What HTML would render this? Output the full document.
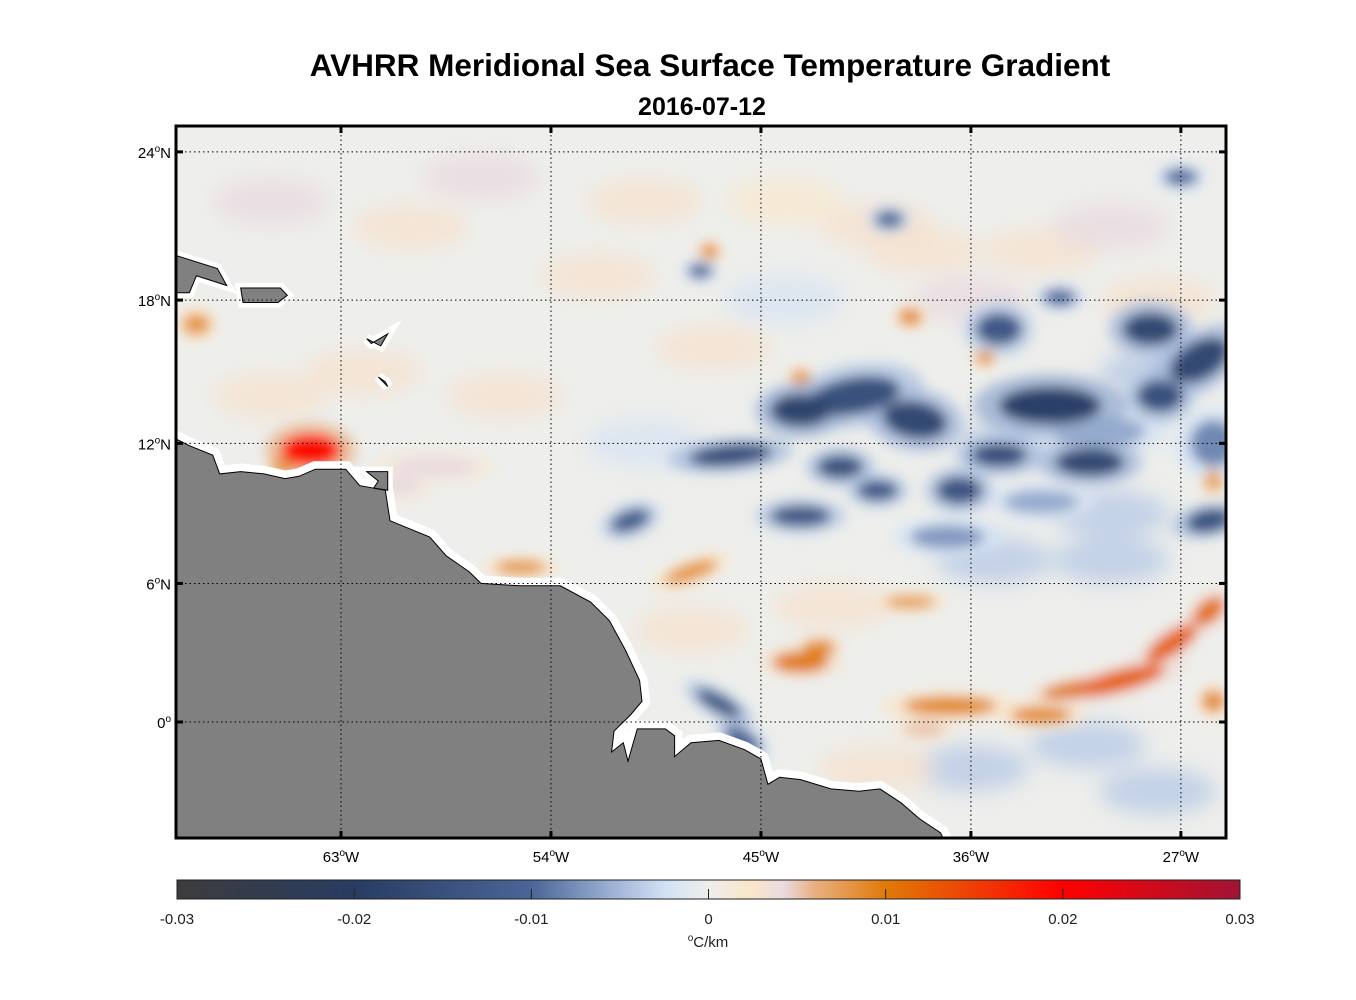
<!DOCTYPE html>
<html><head><meta charset="utf-8">
<style>
html,body{margin:0;padding:0;background:#fff;}
svg{display:block;font-family:"Liberation Sans",Arial,sans-serif;}
</style></head>
<body>
<svg id="chart" width="1356" height="1000" viewBox="0 0 1356 1000">
<defs>
  <clipPath id="mapclip"><rect x="176" y="126" width="1050" height="712"/></clipPath>
  <filter id="blur" x="-50%" y="-50%" width="200%" height="200%"><feGaussianBlur stdDeviation="6"/></filter>
  <filter id="blurs" x="-50%" y="-50%" width="200%" height="200%"><feGaussianBlur stdDeviation="10"/></filter>
  <linearGradient id="cbgrad" x1="0" x2="1" y1="0" y2="0">
    <stop offset="0" stop-color="#3c3c3c"/>
    <stop offset="0.1667" stop-color="#283c62"/>
    <stop offset="0.3333" stop-color="#4a6597"/>
    <stop offset="0.42" stop-color="#a8bcdc"/>
    <stop offset="0.46" stop-color="#d2e2f5"/>
    <stop offset="0.5" stop-color="#eeeeec"/>
    <stop offset="0.54" stop-color="#fbe6c8"/>
    <stop offset="0.57" stop-color="#eadbe0"/>
    <stop offset="0.6" stop-color="#e8b080"/>
    <stop offset="0.6667" stop-color="#e07a08"/>
    <stop offset="0.8333" stop-color="#ff0000"/>
    <stop offset="1" stop-color="#a01434"/>
  </linearGradient>
</defs>
<text x="710" y="76" text-anchor="middle" font-size="31.5" font-weight="bold">AVHRR Meridional Sea Surface Temperature Gradient</text>
<text x="702" y="115" text-anchor="middle" font-size="25" font-weight="bold">2016-07-12</text>
<g id="map" clip-path="url(#mapclip)">
  <rect x="176" y="126" width="1050" height="712" fill="#eeefec"/>
  <g id="bgfield" filter="url(#blurs)"></g>
  <g id="field" filter="url(#blur)"></g>
  <g id="land"></g>
  <g id="grid"></g>
</g>
<rect x="176" y="126" width="1050" height="712" fill="none" stroke="#000" stroke-width="3"/>
<g id="ticks"></g>
<g id="cbar"></g>
<text x="708" y="947" text-anchor="middle" font-size="15" fill="#222"><tspan font-size="10" dy="-6">o</tspan><tspan dy="6">C/km</tspan></text>
</svg>
<script>
// ---- data ----
const lonTicks = [-63, -54, -45, -36, -27];
const latTicks = [24, 18, 12, 6, 0];
const cbTicks = [-0.03, -0.02, -0.01, 0, 0.01, 0.02, 0.03];
const cbTickLabels = ["-0.03", "-0.02", "-0.01", "0", "0.01", "0.02", "0.03"];
// gradient features (anomaly blobs)
const featLon = [-43.3,-41.0,-38.4,-32.6,-34.8,-30.9,-27.9,-26.2,-28.3,-34.8,-46.3,-41.6,-36.5,-40.0,-43.3,-50.6,-25.8,-46.8,-32.2,-47.6,-39.5,-27.0,-30.5,-25.6,-37.0,-33.0,-45.8,
  -29.6,-27.4,-25.8,-31.6,-36.9,-33.0,-43.3,-42.5,-48.0,-55.3,-64.3,-65.5,-69.2,-47.2,-38.6,-35.4,-43.3,-38.6,-25.6,-25.6,-38.0,-59.0,-60.5];
const featLat = [13.4,14.0,13.0,13.6,11.5,11.2,14.0,15.5,16.8,16.8,11.5,11.0,10.0,10.0,8.9,8.7,8.7,0.8,18.1,19.2,21.3,23.0,12.5,12.0,8.0,9.5,-0.8,
  1.8,3.4,4.8,1.4,0.7,0.3,2.6,3.2,6.5,6.7,11.7,11.0,17.0,20.0,17.3,15.6,14.8,5.2,0.9,10.4,-0.3,11.0,10.2];
const featRx = [1.3,2.0,1.4,2.2,1.2,1.5,1.0,0.8,1.2,1.0,1.8,1.0,1.0,0.9,1.3,0.9,0.5,1.1,0.7,0.5,0.6,0.7,2.0,1.0,1.6,1.6,0.9,
  2.0,1.3,0.8,1.4,2.0,1.3,1.2,0.7,1.2,1.1,1.3,0.5,0.6,0.4,0.5,0.4,0.4,1.1,0.5,0.4,0.9,1.8,0.9];
const featRy = [0.7,0.8,0.8,0.8,0.5,0.6,0.7,1.4,0.7,0.7,0.45,0.5,0.6,0.45,0.45,0.45,1.0,0.35,0.35,0.3,0.35,0.35,0.7,1.0,0.5,0.5,0.45,
  0.45,0.45,0.45,0.35,0.4,0.35,0.45,0.35,0.35,0.3,0.7,0.35,0.45,0.3,0.35,0.3,0.3,0.3,0.45,0.45,0.35,0.45,0.45];
const featVal = [-0.018,-0.015,-0.017,-0.019,-0.016,-0.017,-0.015,-0.017,-0.017,-0.013,-0.016,-0.015,-0.014,-0.013,-0.014,-0.012,-0.015,-0.015,-0.01,-0.011,-0.011,-0.01,-0.006,-0.008,-0.007,-0.006,-0.011,
  0.012,0.012,0.011,0.01,0.009,0.009,0.01,0.009,0.008,0.008,0.019,0.008,0.008,0.009,0.009,0.008,0.008,0.007,0.009,0.007,0.005,0.004,0.004];
const featRot = [0,-10,10,0,0,0,0,60,0,0,-5,0,0,0,0,-20,80,30,0,0,0,0,0,80,0,0,35,
  -15,-35,-40,-10,0,0,0,0,-20,0,0,0,0,0,0,0,0,0,0,0,0,0,0];
// faint background field
const bgLon = [-66,-60,-57,-52,-50,-47,-44,-40,-36,-33,-30,-28,-66,-62,-56,-50,-44,-38,-58,-54,-48,-42,-36,-31,-28,-35,-30,-40,-34,-30,-28];
const bgLat = [22,21,23,19,22,16,22,21,18,20,21,18,14,15,14,12,18,20,3,1,4,5,-2,-1,-3,7,7,-2,12,9,15];
const bgVal = [0.004,0.003,0.004,0.003,0.003,0.003,0.002,0.003,0.004,0.003,0.004,0.003,0.003,0.003,0.003,-0.002,-0.002,0.003,0.003,0.002,0.003,0.003,-0.004,-0.004,-0.004,-0.004,-0.004,0.003,-0.004,-0.004,-0.004];
// land (South American coast), lon/lat
const landLon = [-70.3,-70.1,-69.5,-68.5,-68.2,-67.3,-66.3,-65.4,-64.8,-64.1,-62.8,-62.2,-61.1,-60.9,-59.2,-58.5,-57.5,-57.0,-55.3,-53.6,-52.3,-51.5,-50.8,-50.2,-50.1,-50.6,-51.3,-51.4,-50.9,-50.7,-50.3,-49.1,-48.7,-48.7,-48.0,-46.8,-45.7,-45.0,-44.7,-44.2,-43.3,-42.0,-40.8,-39.9,-39.0,-38.2,-37.3,-37.0,-70.3];
const landLat = [12.2,12.2,11.9,11.5,10.7,10.8,10.7,10.5,10.6,10.9,10.9,10.2,10.0,8.7,8.0,7.2,6.5,6.0,5.9,5.9,5.2,4.4,3.1,1.8,0.9,0.3,-0.4,-1.3,-0.9,-1.7,-0.3,-0.3,-0.6,-1.5,-0.9,-0.8,-1.2,-1.6,-2.7,-2.4,-2.5,-2.9,-3.0,-2.9,-3.5,-4.2,-4.8,-5.5,-5.5];
const islands = [
  {lon:[-70.3,-68.3,-67.9,-69.2,-69.5,-70.3],lat:[19.9,19.3,18.6,19.0,18.3,18.3]},
  {lon:[-67.3,-65.6,-65.3,-65.7,-67.2],lat:[18.5,18.5,18.2,17.9,17.9]},
  {lon:[-61.9,-61.3,-61.0,-61.7],lat:[16.4,16.1,16.6,16.2]},
  {lon:[-61.4,-61.0,-61.1],lat:[14.8,14.4,14.6]},
  {lon:[-61.9,-61.0,-61.0,-61.6,-61.4],lat:[10.8,10.8,10.0,10.1,10.4]}
];
// ---- axes ----
const x0 = 341, pxPerDeg = 23.33, yEq = 722, kY = 23.05;
function xs(lon){ return x0 + (lon + 63) * pxPerDeg; }
function ys(lat){ const r = lat*Math.PI/180; return yEq - kY * (180/Math.PI) * Math.log(Math.tan(Math.PI/4 + r/2)); }
const cbX0 = 177, cbX1 = 1240, cbY = 880, cbH = 19;
function cx(v){ return cbX0 + (v + 0.03) / 0.06 * (cbX1 - cbX0); }
const NS = "http://www.w3.org/2000/svg";
function mk(tag, attrs, parent){ const e = document.createElementNS(NS, tag); for (const k in attrs) e.setAttribute(k, attrs[k]); parent.appendChild(e); return e; }
function hex(c){ return [parseInt(c.slice(1,3),16),parseInt(c.slice(3,5),16),parseInt(c.slice(5,7),16)]; }
const cStops = [[-0.03,"#3c3c3c"],[-0.02,"#283c62"],[-0.01,"#4a6597"],[-0.005,"#a8bcdc"],[-0.0025,"#d2e2f5"],[0,"#eeeeec"],[0.0025,"#fbe6c8"],[0.004,"#eadbe0"],[0.006,"#e8b080"],[0.01,"#e07a08"],[0.02,"#ff0000"],[0.03,"#a01434"]];
function color(v){
  if (v <= cStops[0][0]) return cStops[0][1];
  for (let i = 1; i < cStops.length; i++){
    if (v <= cStops[i][0]){
      const t = (v - cStops[i-1][0]) / (cStops[i][0] - cStops[i-1][0]);
      const a = hex(cStops[i-1][1]), b = hex(cStops[i][1]);
      return "rgb(" + a.map((q,j)=>Math.round(q + (b[j]-q)*t)).join(",") + ")";
    }
  }
  return cStops[cStops.length-1][1];
}
// background field
const bg = document.getElementById("bgfield");
for (let i = 0; i < bgLon.length; i++){
  const e = mk("ellipse", {cx: xs(bgLon[i]), cy: ys(bgLat[i]), rx: 2.5*pxPerDeg, ry: 1.0*pxPerDeg, fill: color(bgVal[i]), opacity: 0.8}, bg);
  
  
}
// features: halos first, then cores ordered by magnitude
const fg = document.getElementById("field");
const order = featVal.map((v,i)=>i).sort((a,b)=>Math.abs(featVal[a])-Math.abs(featVal[b]));
order.forEach(i => {
  const X = xs(featLon[i]), Y = ys(featLat[i]);
  const h = mk("ellipse", {cx: X, cy: Y, rx: featRx[i]*pxPerDeg*1.5, ry: featRy[i]*pxPerDeg*1.7, fill: color(featVal[i]*0.3), opacity: 0.8, transform: "rotate(" + featRot[i] + " " + X + " " + Y + ")"}, fg);
  
  
});
order.forEach(i => {
  const X = xs(featLon[i]), Y = ys(featLat[i]);
  const e = mk("ellipse", {cx: X, cy: Y, rx: featRx[i]*pxPerDeg, ry: featRy[i]*pxPerDeg, fill: color(featVal[i]), transform: "rotate(" + featRot[i] + " " + X + " " + Y + ")"}, fg);
  
  
});
// land
const lg = document.getElementById("land");
function polyPts(lons, lats){ return lons.map((l,i)=> xs(l).toFixed(1) + "," + ys(lats[i]).toFixed(1)).join(" "); }
const halo = mk("polygon", {points: polyPts(landLon, landLat), fill: "#fff", stroke: "#fff", "stroke-width": 16, "stroke-linejoin": "miter"}, lg);


islands.forEach(isl => {
  const m = mk("polygon", {points: polyPts(isl.lon, isl.lat), fill: "#fff", stroke: "#fff", "stroke-width": 10}, lg);
  
  
});
const land = mk("polygon", {points: polyPts(landLon, landLat), fill: "#808080", stroke: "#000", "stroke-width": 1}, lg);


islands.forEach(isl => {
  const p = mk("polygon", {points: polyPts(isl.lon, isl.lat), fill: "#808080", stroke: "#000", "stroke-width": 1}, lg);
  
  
});
// grid
const gg = document.getElementById("grid");
lonTicks.forEach(l => {
  const ln = mk("line", {x1: xs(l), x2: xs(l), y1: 126, y2: 838, stroke: "#000", "stroke-width": 1, "stroke-dasharray": "1.5,3"}, gg);
  
  
});
latTicks.forEach(l => {
  const ln = mk("line", {x1: 176, x2: 1226, y1: ys(l), y2: ys(l), stroke: "#000", "stroke-width": 1, "stroke-dasharray": "1.5,3"}, gg);
  
  
});
// ticks and labels
const tg = document.getElementById("ticks");
lonTicks.forEach(l => {
  const X = xs(l);
  const t1 = mk("line", {x1: X, x2: X, y1: 126, y2: 133, stroke: "#000", "stroke-width": 3}, tg);
  
  
  const t2 = mk("line", {x1: X, x2: X, y1: 831, y2: 838, stroke: "#000", "stroke-width": 3}, tg);
  
  
  const tx = mk("text", {x: X, y: 862, "text-anchor": "middle", "font-size": 15}, tg);
  
  
  tx.innerHTML = Math.abs(l) + '<tspan font-size="10" dy="-6">o</tspan><tspan dy="6">W</tspan>';
});
latTicks.forEach(l => {
  const Y = ys(l);
  const t1 = mk("line", {x1: 176, x2: 183, y1: Y, y2: Y, stroke: "#000", "stroke-width": 3}, tg);
  
  
  const t2 = mk("line", {x1: 1219, x2: 1226, y1: Y, y2: Y, stroke: "#000", "stroke-width": 3}, tg);
  
  
  const tx = mk("text", {x: 171, y: Y + 6, "text-anchor": "end", "font-size": 15}, tg);
  
  
  tx.innerHTML = l + '<tspan font-size="10" dy="-6">o</tspan>' + (l === 0 ? '' : '<tspan dy="6">N</tspan>');
});
// colorbar
const cb = document.getElementById("cbar");
const cbr = mk("rect", {x: cbX0, y: cbY, width: cbX1 - cbX0, height: cbH, fill: "url(#cbgrad)", stroke: "#222", "stroke-width": 1}, cb);


cbTicks.forEach((v, i) => {
  const X = cx(v);
  if (i > 0 && i < cbTicks.length - 1){
    const t = mk("line", {x1: X, x2: X, y1: cbY + cbH - 10, y2: cbY + cbH, stroke: "#222", "stroke-width": 1}, cb);
    
    
  }
  const tx = mk("text", {x: X, y: 924, "text-anchor": "middle", "font-size": 15, fill: "#222"}, cb);
  
  
  tx.textContent = cbTickLabels[i];
});
</script>
</body></html>
